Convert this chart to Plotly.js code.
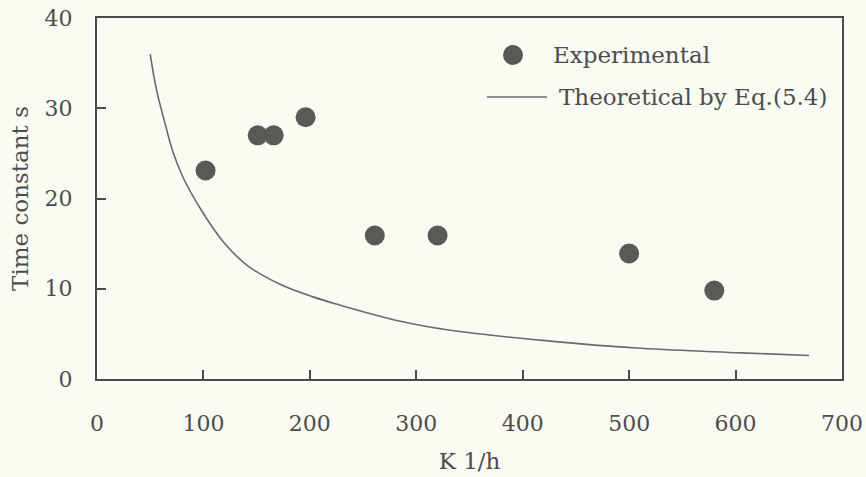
<!DOCTYPE html>
<html>
<head>
<meta charset="utf-8">
<script src="https://cdn.plot.ly/plotly-3.0.1.min.js"></script>
<style>html,body{margin:0;padding:0;background:#fafbf2;}#chart{width:866px;height:477px;}</style>
</head>
<body>
<div id="chart"></div>
<script>
// Experimental points
const expK = [102, 151, 166, 196, 261, 320, 500, 580];
const expTau = [23.1, 27.0, 27.0, 29.0, 15.9, 15.9, 13.9, 9.8];
// Theoretical curve
const theoK = [50, 56, 64, 71, 81, 97, 118, 141, 172, 203, 228, 285, 332, 426, 511, 605, 669];
const theoTau = [36.0, 32.0, 28.3, 25.3, 22.3, 18.9, 15.3, 12.6, 10.5, 9.1, 8.2, 6.4, 5.4, 4.2, 3.4, 2.9, 2.6];
const xTicks = [0, 100, 200, 300, 400, 500, 600, 700];
const yTicks = [0, 10, 20, 30, 40];
const legendNames = ['Experimental', 'Theoretical by Eq.(5.4)'];

const ink = '#4d4d4d';
const fontFam = 'DejaVu Serif, serif';

const traces = [
  {x: theoK, y: theoTau, mode: 'lines', line: {color: '#6a6a6a', width: 1.6, shape: 'spline', smoothing: 1.1}, name: legendNames[1], showlegend: false, hoverinfo: 'skip'},
  {x: expK, y: expTau, mode: 'markers', marker: {size: 20, color: '#5a5a55'}, name: legendNames[0], showlegend: false}
];

const axisCommon = {
  showgrid: false, zeroline: false, showline: true, mirror: true,
  linecolor: '#4a4a4a', linewidth: 2,
  ticks: 'inside', tickcolor: '#4a4a4a', tickwidth: 2,
  tickfont: {family: fontFam, size: 22, color: ink}
};

const layout = {
  width: 866, height: 477,
  paper_bgcolor: '#fafbf2', plot_bgcolor: '#fafbf2',
  margin: {l: 97, r: 24, t: 18, b: 98},
  showlegend: false,
  xaxis: Object.assign({}, axisCommon, {
    range: [0, 700], tickvals: xTicks, ticklen: 9, ticklabelstandoff: 24,
    title: {text: 'K 1/h', font: {family: fontFam, size: 23, color: ink}, standoff: 17}
  }),
  yaxis: Object.assign({}, axisCommon, {
    range: [0, 40], tickvals: yTicks, ticklen: 9, ticklabelstandoff: 18,
    title: {text: 'Time constant s', font: {family: fontFam, size: 23, color: ink}, standoff: 10}
  }),
  shapes: [
    {type: 'circle', xref: 'paper', yref: 'paper', xsizemode: 'pixel', ysizemode: 'pixel',
     xanchor: 0.5584, yanchor: 0.8975, x0: -10, x1: 10, y0: -10, y1: 10,
     fillcolor: '#5a5a55', line: {width: 0}},
    {type: 'line', xref: 'paper', yref: 'paper', x0: 0.5235, x1: 0.604, y0: 0.781, y1: 0.781,
     line: {color: '#6a6a6a', width: 1.6}}
  ],
  annotations: [
    {xref: 'paper', yref: 'paper', x: 0.610, y: 0.8975, xanchor: 'left', yanchor: 'middle', showarrow: false,
     text: legendNames[0], font: {family: fontFam, size: 23, color: ink}},
    {xref: 'paper', yref: 'paper', x: 0.617, y: 0.781, xanchor: 'left', yanchor: 'middle', showarrow: false,
     text: legendNames[1], font: {family: fontFam, size: 23, color: ink}}
  ]
};

Plotly.newPlot('chart', traces, layout, {displayModeBar: false, staticPlot: true});
</script>
</body>
</html>
